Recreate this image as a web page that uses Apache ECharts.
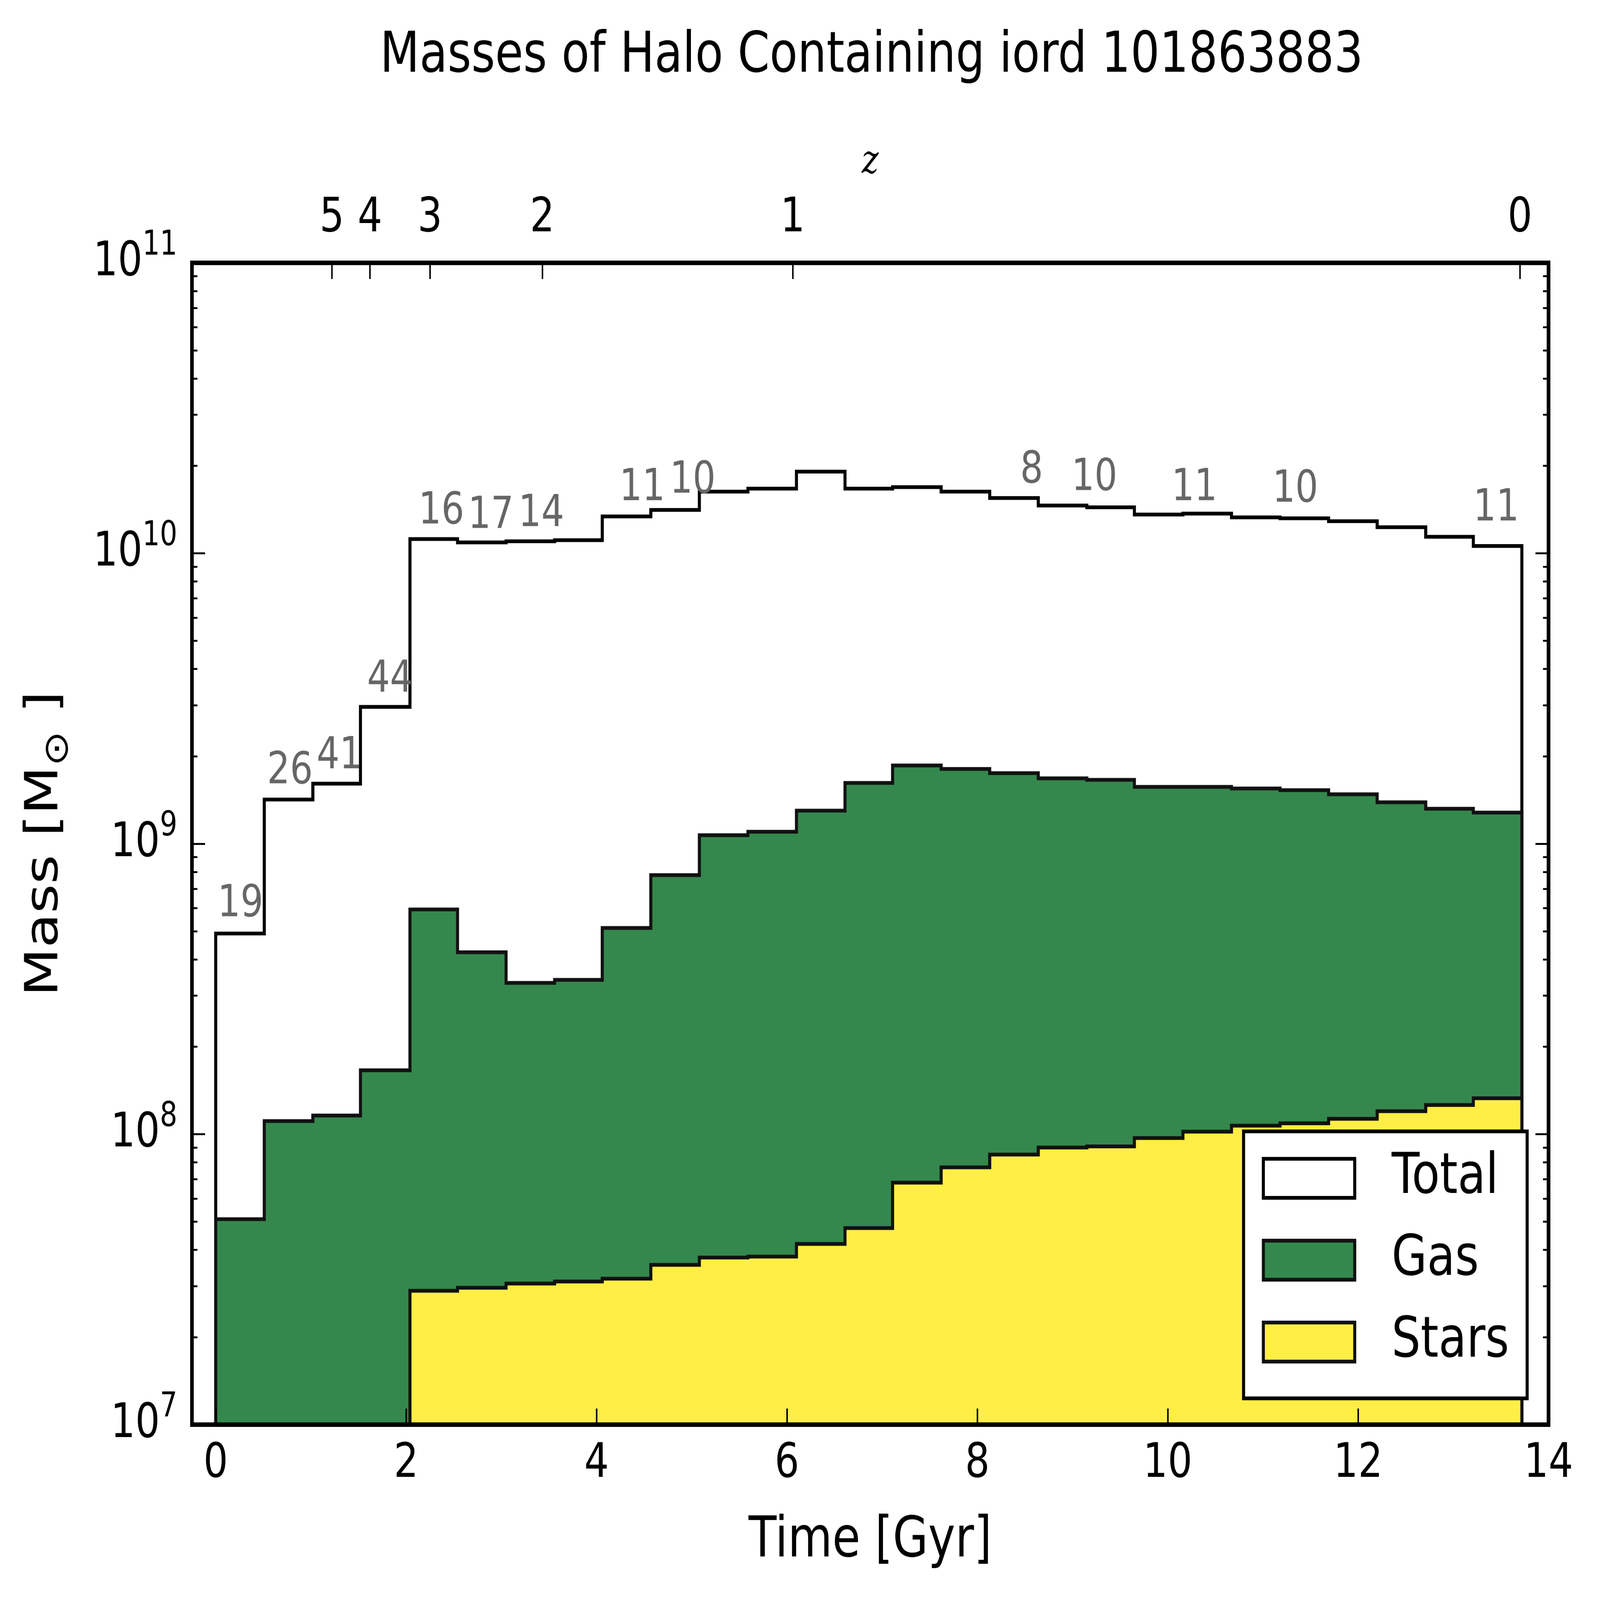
<!DOCTYPE html>
<html>
<head>
<meta charset="utf-8">
<script src="https://cdn.jsdelivr.net/npm/echarts@6/dist/echarts.min.js"></script>
<style>
html, body { margin: 0; padding: 0; background: #fff; overflow: hidden; }
#chart { width: 5252px; height: 4261px; transform-origin: 0 0; }
</style>
</head>
<body>
<div id="chart"></div>
<script>
// bin edges of the step histogram [Gyr]
var binEdges = [0, 0.51, 1.02, 1.52, 2.04, 2.54, 3.05, 3.56, 4.06, 4.57, 5.08, 5.59, 6.10, 6.61,
                7.11, 7.62, 8.13, 8.64, 9.15, 9.65, 10.16, 10.67, 11.18, 11.69, 12.20, 12.71, 13.21, 13.72];

// masses per bin [Msun]
var totalMass = [4.91e8, 1.42e9, 1.61e9, 2.96e9, 1.12e10, 1.09e10, 1.10e10, 1.11e10, 1.34e10, 1.41e10,
                 1.63e10, 1.67e10, 1.91e10, 1.67e10, 1.69e10, 1.63e10, 1.55e10, 1.46e10, 1.44e10, 1.36e10,
                 1.37e10, 1.33e10, 1.32e10, 1.29e10, 1.23e10, 1.14e10, 1.06e10];
var gasMass = [5.10e7, 1.11e8, 1.16e8, 1.66e8, 5.94e8, 4.23e8, 3.32e8, 3.40e8, 5.13e8, 7.80e8,
               1.07e9, 1.10e9, 1.30e9, 1.62e9, 1.86e9, 1.81e9, 1.75e9, 1.68e9, 1.66e9, 1.57e9,
               1.57e9, 1.55e9, 1.53e9, 1.48e9, 1.39e9, 1.32e9, 1.28e9];
var starMass = [0, 0, 0, 0, 2.89e7, 2.96e7, 3.06e7, 3.11e7, 3.18e7, 3.55e7,
                3.76e7, 3.79e7, 4.19e7, 4.75e7, 6.81e7, 7.69e7, 8.51e7, 9.00e7, 9.08e7, 9.70e7,
                1.02e8, 1.07e8, 1.09e8, 1.13e8, 1.20e8, 1.26e8, 1.33e8];

// grey numbers written above the total
var noteTimes = [0.26, 0.78, 1.30, 1.83, 2.37, 2.89, 3.42, 4.48, 5.01, 8.57, 9.23, 10.28, 11.34, 13.45];
var noteMass = [6.17e8, 1.77e9, 1.99e9, 3.66e9, 1.39e10, 1.34e10, 1.36e10, 1.67e10, 1.77e10,
                1.92e10, 1.81e10, 1.67e10, 1.65e10, 1.42e10];
var noteText = ['19', '26', '41', '44', '16', '17', '14', '11', '10', '8', '10', '11', '10', '11'];

// top axis: redshift
var zTimes = [1.22, 1.62, 2.25, 3.43, 6.06, 13.70];
var zLabels = ['5', '4', '3', '2', '1', '0'];

var timeTicks = [0, 2, 4, 6, 8, 10, 12, 14];
var massTicks = [1e7, 1e8, 1e9, 1e10, 1e11];
var mantissas = [2, 3, 4, 5, 6, 7, 8, 9];

var massMinor = [];
for (var d = 0; d < 4; d++) {
	for (var m = 0; m < mantissas.length; m++) massMinor.push(mantissas[m] * massTicks[d]);
}

var floorMass = massTicks[0];

var stepPath = function(vals) {
	var first = 0;
	while (first < vals.length && !(vals[first] > 0)) first++;
	var pts = [[binEdges[first], floorMass]];
	for (var i = first; i < vals.length; i++) pts.push([binEdges[i], vals[i]]);
	var end = binEdges[vals.length];
	pts.push([end, vals[vals.length - 1]]);
	pts.push([end, floorMass]);
	return pts;
};

var stepSeries = function(name, vals, fill, edge, z) {
	return {
		name: name, type: 'line', step: 'end', data: stepPath(vals),
		symbol: 'none', z: z, silent: true,
		lineStyle: { color: edge, width: 10, join: 'miter' },
		itemStyle: { color: fill, borderColor: edge },
		areaStyle: { color: fill, opacity: 1, origin: 'start' }
	};
};

var font = 'DejaVu Sans';
var black = '#000';

var yBase = function(pos, ticks, len, showLine) {
	return {
		type: 'log', logBase: 10, min: 1e7, max: 1e11, position: pos, z: 6,
		splitLine: { show: false },
		minorTick: { show: false },
		axisLine: { show: showLine, onZero: false, lineStyle: { color: black, width: 12, cap: 'square' } },
		axisTick: { show: true, inside: true, length: len, customValues: ticks, lineStyle: { color: black, width: 5 } },
		axisLabel: { show: false }
	};
};

var yMain = yBase('left', massTicks, 43, true);
yMain.axisLabel = {
	show: true, customValues: massTicks, margin: 48,
	formatter: function(v) { return '{b|10}{s|' + Math.round(Math.log10(v)) + '}'; },
	rich: {
		b: { fontSize: 127, fontFamily: font, color: black, lineHeight: 180 },
		s: { fontSize: 90, fontFamily: font, color: black, lineHeight: 89, verticalAlign: 'top' }
	}
};
yMain.name = '{a|Mass [M}{s|\u2299}{a| ]}';
yMain.nameLocation = 'middle';
yMain.nameGap = 381;
yMain.nameRotate = 90;
yMain.nameMoveOverlap = false;
yMain.nameTextStyle = {
	rich: {
		a: { fontSize: 150, fontFamily: font, color: black, lineHeight: 200 },
		s: { fontSize: 112, fontFamily: font, color: black, lineHeight: 96, verticalAlign: 'bottom' }
	}
};

// the sandbox window can be smaller than the chart: stretch the chart over it
var box = document.getElementById('chart');
var sx = window.innerWidth / 5252, sy = window.innerHeight / 4261;
box.style.transform = 'scale(' + sx + ',' + sy + ')';

var chart = echarts.init(box, null, { renderer: 'canvas', width: 5252, height: 4261 });

chart.setOption({
	animation: false,
	backgroundColor: '#fff',
	textStyle: { fontFamily: font },
	title: {
		text: 'Masses of Halo Containing iord 101863883',
		left: 2856, top: 72, textAlign: 'center',
		textStyle: { fontSize: 150, fontWeight: 'normal', color: black, fontFamily: font, lineHeight: 150 }
	},
	grid: { left: 630, right: 169, top: 700, bottom: 467, containLabel: false, outerBoundsMode: 'none' },
	legend: {
		orient: 'vertical', left: 4082, top: 3013, z: 10,
		icon: 'rect', itemWidth: 300, itemHeight: 104, itemGap: 68,
		padding: [50, 59, 75, 60],
		backgroundColor: '#fff', borderColor: black, borderWidth: 10, borderRadius: 0,
		selectedMode: false,
		textStyle: { fontSize: 150, color: black, fontFamily: font, padding: [0, 0, 0, 116] },
		data: [
			{ name: 'Total', itemStyle: { color: '#fff', borderColor: black, borderWidth: 10 } },
			{ name: 'Gas', itemStyle: { color: '#34884d', borderColor: '#111', borderWidth: 10 } },
			{ name: 'Stars', itemStyle: { color: '#ffee46', borderColor: '#111', borderWidth: 10 } }
		]
	},
	xAxis: [
		{
			type: 'value', position: 'bottom', min: -0.25, max: 14, z: 6,
			splitLine: { show: false },
			axisLine: { onZero: false, lineStyle: { color: black, width: 12, cap: 'square' } },
			axisTick: { inside: true, length: 43, customValues: timeTicks, lineStyle: { color: black, width: 5 } },
			axisLabel: { customValues: timeTicks, fontSize: 127, lineHeight: 127, margin: 43, color: black, fontFamily: font },
			name: 'Time [Gyr]', nameLocation: 'middle', nameGap: 237, nameMoveOverlap: false,
			nameTextStyle: { fontSize: 150, lineHeight: 150, color: black, fontFamily: font }
		},
		{
			type: 'value', position: 'top', min: -0.25, max: 14, z: 6,
			splitLine: { show: false },
			axisLine: { onZero: false, lineStyle: { color: black, width: 12, cap: 'square' } },
			axisTick: { inside: true, length: 43, customValues: zTimes, lineStyle: { color: black, width: 5 } },
			axisLabel: {
				customValues: zTimes, fontSize: 127, lineHeight: 127, margin: 53, color: black, fontFamily: font,
				formatter: function(v) { return zLabels[zTimes.indexOf(v)]; }
			},
			name: 'z', nameLocation: 'middle', nameGap: 215, nameMoveOverlap: false,
			nameTextStyle: { fontSize: 105, lineHeight: 105, color: black, fontFamily: 'DejaVu Serif', fontStyle: 'italic' }
		}
	],
	yAxis: [
		yMain,
		yBase('left', massMinor, 18, false),
		yBase('right', massTicks, 43, true),
		yBase('right', massMinor, 18, false)
	],
	series: [
		stepSeries('Total', totalMass, '#fff', black, 1),
		stepSeries('Gas', gasMass, '#34884d', '#111', 2),
		stepSeries('Stars', starMass, '#ffee46', '#111', 3),
		{
			name: 'notes', type: 'scatter', z: 4, silent: true, symbolSize: 1,
			itemStyle: { color: 'rgba(0,0,0,0)', opacity: 1 },
			data: noteTimes.map(function(t, i) { return [t, noteMass[i]]; }),
			label: {
				show: true, position: 'inside', opacity: 1,
				formatter: function(p) { return noteText[p.dataIndex]; },
				color: '#666', fontSize: 118, fontFamily: font
			}
		}
	]
});
</script>
</body>
</html>
